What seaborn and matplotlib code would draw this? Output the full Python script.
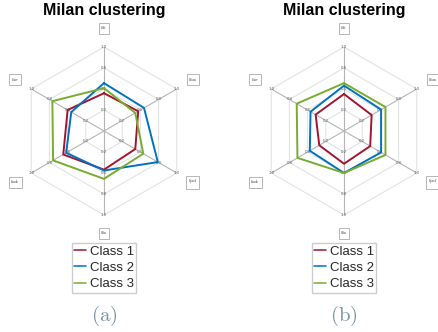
import numpy as np
import pandas as pd
import matplotlib
matplotlib.use("Agg")
import matplotlib.pyplot as plt
from matplotlib.lines import Line2D
import seaborn as sns

sns.set_theme(style="white")
plt.rcParams["font.family"] = ["Liberation Sans", "DejaVu Sans"]
plt.rcParams["mathtext.fontset"] = "cm"

# Feature axes, clockwise from the top
features = [r"$l_{\mathrm{sfs}}$", r"$l_{\mathrm{fam}}$", r"$l_{\mathrm{prof}}$",
            r"$l_{\mathrm{fin}}$", r"$l_{\mathrm{mob}}$", r"$l_{\mathrm{env}}$"]
classes = ["Class 1", "Class 2", "Class 3"]
palette = ["#A2142F", "#0072BD", "#77AC30"]
ring_values = [0.25, 0.5, 0.75, 1.0]

# Panel (a)
a_class1 = [0.45, 0.47, 0.43, 0.46, 0.56, 0.50]
a_class2 = [0.57, 0.55, 0.74, 0.47, 0.52, 0.45]
a_class3 = [0.51, 0.43, 0.54, 0.57, 0.70, 0.71]
# Panel (b)
b_class1 = [0.44, 0.38, 0.36, 0.39, 0.34, 0.39]
b_class2 = [0.54, 0.51, 0.51, 0.50, 0.47, 0.46]
b_class3 = [0.57, 0.57, 0.57, 0.50, 0.64, 0.65]

panels = [("(a)", [a_class1, a_class2, a_class3]),
          ("(b)", [b_class1, b_class2, b_class3])]

n = len(features)
angles = np.pi / 2 - np.arange(n) * 2 * np.pi / n
closed = np.append(angles, angles[0] - 2 * np.pi)

fig = plt.figure(figsize=(4.38, 3.32), dpi=100)

centers_x = [104, 344]
cy, R = 131, 84
W, H = 438, 332

for (cap, series), cx in zip(panels, centers_x):
    ax = fig.add_axes([(cx - R) / W, (H - cy - R) / H, 2 * R / W, 2 * R / H],
                      projection="polar")
    ax.set_ylim(0, 1)
    ax.grid(False)
    ax.spines["polar"].set_visible(False)
    ax.set_xticks([])
    ax.set_yticks([])

    # hexagonal rings and spokes
    for rv in ring_values:
        ax.plot(closed, [rv] * (n + 1), color="#e2e2e2", lw=0.8, zorder=1)
    for a in angles:
        ax.plot([a, a], [0, 1], color="#b4b4b4", lw=0.8, zorder=1)
        for rv in ring_values:
            ax.text(a, rv, f"{rv:.1f}", fontsize=3.2, color="#666666",
                    ha="center", va="center", zorder=2)

    rows = []
    for cls, vals in zip(classes, series):
        for th, v in zip(closed, vals + vals[:1]):
            rows.append({"theta": th, "r": v, "cls": cls})
    df = pd.DataFrame(rows)
    sns.lineplot(data=df, x="theta", y="r", hue="cls", palette=palette,
                 sort=False, estimator=None, lw=1.4, legend=False, ax=ax,
                 zorder=3)
    ax.set_xlabel("")
    ax.set_ylabel("")

    for a, lab in zip(angles, features):
        ax.text(a, 1.22, lab, fontsize=3.5, ha="center", va="center",
                color="#333333",
                bbox=dict(boxstyle="square,pad=0.35", fc="white",
                          ec="#aaaaaa", lw=0.6))

    fig.text(cx / W, 1 - 10 / H, "Milan clustering", fontsize=11.5,
             fontweight="bold", ha="center", va="center", color="black")

    handles = [Line2D([], [], color=c, lw=1.1) for c in palette]
    fig.legend(handles, classes, loc="upper center",
               bbox_to_anchor=(cx / W, 1 - 243 / H), fontsize=9.5,
               frameon=True, fancybox=False, edgecolor="#cccccc",
               framealpha=1, handlelength=0.9, handletextpad=0.25,
               borderpad=0.2, labelspacing=0.3, borderaxespad=0)

    fig.text(cx / W, 1 - 316 / H, r"$\mathrm{" + cap + "}$", fontsize=15,
             ha="center", va="center", color="#7a90a8")

fig.savefig("out.png", dpi=100)
